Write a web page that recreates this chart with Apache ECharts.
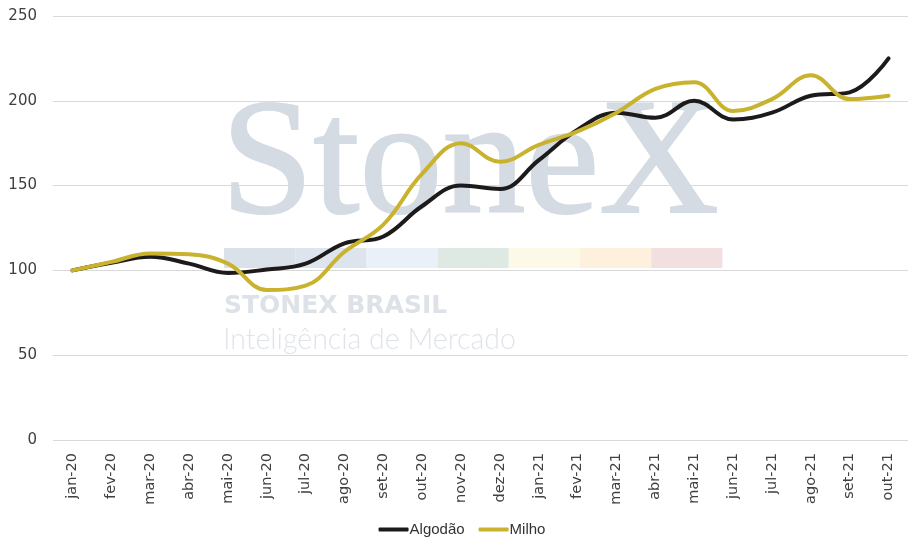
<!DOCTYPE html>
<html>
<head>
<meta charset="utf-8">
<script src="https://cdn.jsdelivr.net/npm/echarts@6/dist/echarts.min.js"></script>
<style>
  html, body { margin: 0; padding: 0; background: #fff; }
  #chart { width: 924px; height: 552px; }
</style>
</head>
<body>
<div id="chart"></div>
<script>
// meses (jan-20 a out-21)
var meses = ['jan-20', 'fev-20', 'mar-20', 'abr-20', 'mai-20', 'jun-20', 'jul-20', 'ago-20',
    'set-20', 'out-20', 'nov-20', 'dez-20', 'jan-21', 'fev-21', 'mar-21', 'abr-21',
    'mai-21', 'jun-21', 'jul-21', 'ago-21', 'set-21', 'out-21'];

// indices, base 100 em jan-20
var algodao = [100, 104.5, 108, 104, 98.5, 100.5, 104, 116, 120, 138, 150, 148,
    165, 183, 193, 190, 200, 189, 193, 203, 205, 225];
var milho = [100, 105, 110, 109.5, 104, 88.5, 91, 111, 127, 157, 175, 164,
    174, 182, 193, 207, 211, 194, 201, 215, 201, 203];

var faixas = ['#dbe1e9', '#dde4ed', '#e9f0f8', '#dfe9e3', '#fcf9e8', '#fdf1de', '#f2e0e1'];

var chart = echarts.init(document.getElementById('chart'));

// marca d'agua
var marca = [
    {
        type: 'text', left: 220, top: 84, z: -10, silent: true,
        style: { text: 'StoneX', font: '166px "Liberation Serif"', fill: '#d4dbe3', stroke: '#d4dbe3', lineWidth: 2 }
    },
    {
        type: 'text', left: 224, top: 294, z: -10, silent: true,
        style: { text: 'STONEX BRASIL', font: 'bold 25px "DejaVu Sans"', fill: '#dde2e8' }
    },
    {
        type: 'text', left: 223, top: 325, z: -10, silent: true,
        style: { text: 'Inteligência de Mercado', font: '300 28.5px Lato', fill: '#e0e4ea' }
    }
];
faixas.forEach(function (c, i) {
    marca.push({
        type: 'rect', z: -10, silent: true,
        shape: { x: 224 + i * 71.2, y: 248, width: 71.2, height: 20 },
        style: { fill: c }
    });
});

chart.setOption({
    animation: false,
    graphic: marca,
    grid: { left: 53, right: 16, top: 16, bottom: 112 },
    legend: {
        bottom: 10,
        left: 'center',
        itemWidth: 30,
        itemHeight: 4,
        itemGap: 14,
        icon: 'roundRect',
        textStyle: { fontFamily: 'Liberation Sans', fontSize: 15, color: '#333', padding: [0, 0, 0, -4] },
        data: ['Algodão', 'Milho']
    },
    xAxis: {
        type: 'category',
        data: meses,
        boundaryGap: true,
        axisLine: { show: false },
        axisTick: { show: false },
        axisLabel: {
            rotate: 90,
            margin: 13,
            interval: 0,
            fontFamily: 'DejaVu Sans',
            fontSize: 14.5,
            color: '#404040'
        }
    },
    yAxis: {
        type: 'value',
        min: 0,
        max: 250,
        interval: 50,
        axisLabel: { fontFamily: 'DejaVu Sans', fontSize: 15, color: '#404040', margin: 16 },
        splitLine: { lineStyle: { color: '#d9d9d9', width: 1 } }
    },
    series: [
        {
            name: 'Algodão',
            type: 'line',
            data: algodao,
            smooth: 0.4,
            symbol: 'none',
            z: 3,
            itemStyle: { color: '#1c1a1a' },
            lineStyle: { color: '#1c1a1a', width: 4, cap: 'round' }
        },
        {
            name: 'Milho',
            type: 'line',
            data: milho,
            smooth: 0.4,
            symbol: 'none',
            z: 4,
            itemStyle: { color: '#c8b22e' },
            lineStyle: { color: '#c8b22e', width: 4, cap: 'round' }
        }
    ]
});
</script>
</body>
</html>
